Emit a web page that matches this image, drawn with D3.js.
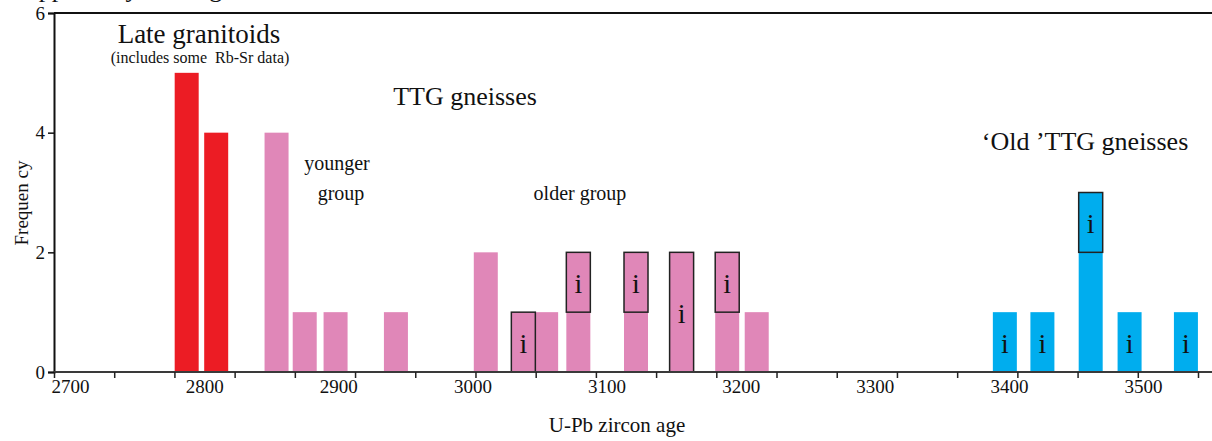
<!DOCTYPE html>
<html>
<head>
<meta charset="utf-8">
<script src="https://cdn.jsdelivr.net/npm/d3@7"></script>
<style>
    body { margin: 0; background: #fff; }
    text { font-family: "Liberation Serif", "DejaVu Serif", serif; fill: #111; }
</style>
</head>
<body>
<div class="chart"></div>
<script>
// bins: centre age (Ma) and frequency
var ages   = [2787, 2809, 2854, 2875, 2898, 2943, 3010, 3038, 3055, 3079, 3122, 3156, 3190, 3212, 3397, 3425, 3461, 3490, 3532];
var counts = [5, 4, 4, 1, 1, 1, 2, 1, 1, 2, 2, 2, 2, 1, 1, 1, 3, 1, 1];
var groups = ["late", "late", "ttg", "ttg", "ttg", "ttg", "ttg", "ttg", "ttg", "ttg", "ttg", "ttg", "ttg", "ttg", "old", "old", "old", "old", "old"];

// inherited zircon ("i") markers: bin age, lower and upper frequency, boxed or not
var iAges  = [3038, 3079, 3122, 3156, 3190, 3397, 3425, 3461, 3490, 3532];
var iLo    = [0, 1, 1, 0, 1, 0, 0, 2, 0, 0];
var iHi    = [1, 2, 2, 2, 2, 1, 1, 3, 1, 1];
var iBoxed = [true, true, true, true, true, false, false, true, false, false];

var ageTicks = [2700, 2800, 2900, 3000, 3100, 3200, 3300, 3400, 3500];
var freqTicks = [0, 2, 4, 6];

var colours = { late: "#ec1c24", ttg: "#e087b8", old: "#00adee" };

var W = 1212, H = 441;
var plot = { left: 54, top: 13, bottom: 372, right: 1198 };
var barW = 24;

var svg = d3.select('.chart')
    .append('svg')
    .attr('width', W)
    .attr('height', H);

var x = d3.scaleLinear()
    .domain([2700, 3500])
    .range([70, 1143]);

// minor ticks of the original axis (19 equal steps)
var xTick = d3.scaleLinear()
    .domain([0, 19])
    .range([plot.left, plot.right]);

var y = d3.scaleLinear()
    .domain([0, 6])
    .range([plot.bottom, plot.top]);

var bars = ages.map(function (a, i) {
    return { age: a, n: counts[i], g: groups[i] };
});

svg.append('g')
    .selectAll('rect')
    .data(bars)
    .enter()
    .append('rect')
    .attr('x', d => x(d.age) - barW / 2)
    .attr('y', d => y(d.n))
    .attr('width', barW)
    .attr('height', d => y(0) - y(d.n))
    .attr('fill', d => colours[d.g]);

var marks = iAges.map(function (a, i) {
    return { age: a, lo: iLo[i], hi: iHi[i], boxed: iBoxed[i] };
});

svg.append('g')
    .selectAll('rect')
    .data(marks.filter(d => d.boxed))
    .enter()
    .append('rect')
    .attr('x', d => x(d.age) - barW / 2)
    .attr('y', d => y(d.hi))
    .attr('width', barW)
    .attr('height', d => y(d.lo) - y(d.hi))
    .attr('fill', 'none')
    .attr('stroke', '#222')
    .attr('stroke-width', 1.5);

svg.append('g')
    .selectAll('text')
    .data(marks)
    .enter()
    .append('text')
    .attr('x', d => x(d.age))
    .attr('y', d => (y(d.lo) + y(d.hi)) / 2)
    .attr('dy', '0.38em')
    .attr('text-anchor', 'middle')
    .style('font-size', '28px')
    .text('i');

// frame top line
svg.append('line')
    .attr('x1', plot.left).attr('x2', W)
    .attr('y1', plot.top).attr('y2', plot.top)
    .attr('stroke', '#111').attr('stroke-width', 2);

// y axis
var yAxis = svg.append('g')
    .attr('transform', 'translate(' + plot.left + ',0)')
    .call(d3.axisLeft(y).tickValues(freqTicks).tickSize(6).tickPadding(3).tickFormat(d3.format('d')))
    .attr('font-family', null);
yAxis.select('.domain').attr('stroke', '#111').attr('stroke-width', 2);
yAxis.selectAll('.tick line').attr('stroke', '#111').attr('stroke-width', 1.5);
yAxis.selectAll('text').style('font-size', '19px').attr('fill', '#111');

// x axis baseline + minor ticks
svg.append('line')
    .attr('x1', plot.left).attr('x2', W)
    .attr('y1', plot.bottom).attr('y2', plot.bottom)
    .attr('stroke', '#3a3a3a').attr('stroke-width', 2);

var xt = svg.append('g')
    .attr('transform', 'translate(0,' + plot.bottom + ')')
    .call(d3.axisBottom(xTick).tickValues(d3.range(0, 20)).tickSize(6).tickFormat(''));
xt.select('.domain').remove();
xt.selectAll('.tick line').attr('stroke', '#222').attr('stroke-width', 1.5);

// age labels
var xl = svg.append('g')
    .attr('transform', 'translate(0,' + plot.bottom + ')')
    .call(d3.axisBottom(x).tickValues(ageTicks).tickSize(0).tickPadding(8).tickFormat(d3.format('d')))
    .attr('font-family', null);
xl.select('.domain').remove();
xl.selectAll('text').style('font-size', '19px').attr('fill', '#111');

// axis titles
svg.append('text')
    .attr('x', 617).attr('y', 432)
    .attr('text-anchor', 'middle')
    .style('font-size', '21px')
    .text('U-Pb zircon age');

svg.append('text')
    .attr('transform', 'translate(28,203) rotate(-90)')
    .attr('text-anchor', 'middle')
    .style('font-size', '19px')
    .text('Frequen cy');

// group annotations
var notes = [
    { t: 'Late granitoids', x: 199, y: 43, s: 27 },
    { t: '(includes some  Rb-Sr data)', x: 200, y: 63, s: 16 },
    { t: 'TTG gneisses', x: 465, y: 105, s: 26 },
    { t: 'younger', x: 337, y: 170, s: 20 },
    { t: 'group', x: 341, y: 200, s: 20 },
    { t: 'older group', x: 580, y: 200, s: 20 },
    { t: '\u2018Old \u2019TTG gneisses', x: 1085, y: 150, s: 26 }
];
notes.forEach(function (n) {
    svg.append('text')
        .attr('x', n.x).attr('y', n.y)
        .attr('text-anchor', 'middle')
        .style('font-size', n.s + 'px')
        .style('white-space', 'pre')
        .text(n.t);
});

// caption line above, cut off by the picture edge (as in the reference)
svg.append('text')
    .attr('x', 20).attr('y', -3)
    .style('font-size', '26px')
    .text('Approx. by rock age');
</script>
</body>
</html>
